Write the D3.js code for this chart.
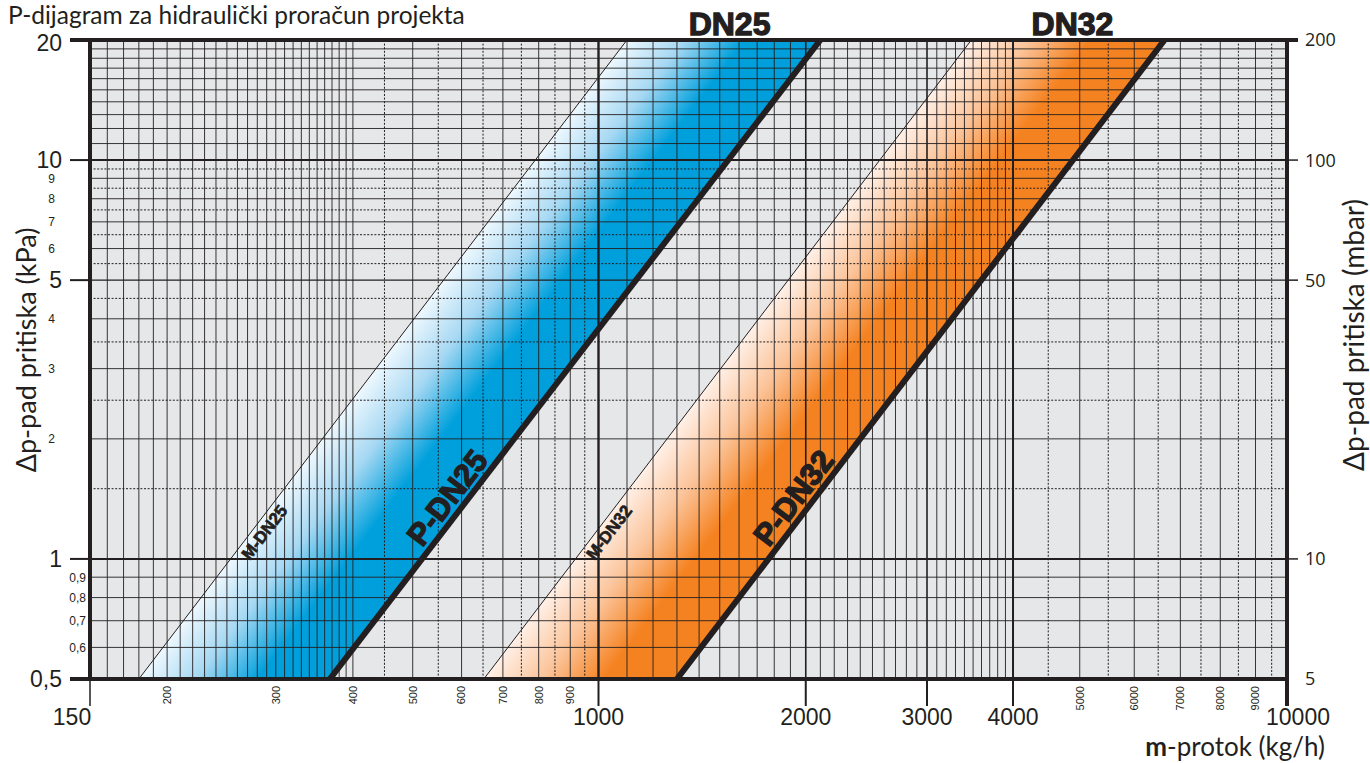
<!DOCTYPE html>
<html>
<head>
<meta charset="utf-8">
<script src="https://cdn.jsdelivr.net/npm/d3@7"></script>
<style>
  html, body { margin: 0; padding: 0; background: #fff; }
  svg { display: block; }
</style>
</head>
<body>
<div id="chart"></div>
<script>
// ---- data ----
const lineNames   = ["M-DN25", "P-DN25", "M-DN32", "P-DN32"];
const flowAtLow   = [180, 367, 652, 1300];    // kg/h at 0.5 kPa
const flowAtHigh  = [1100, 2100, 3480, 6640]; // kg/h at 20 kPa
const dpRange     = [0.5, 20];                // kPa
const bandNames   = ["DN25", "DN32"];
const bandLabelFlow = [1550, 4880];           // where the DN header sits

const xMajorTicks  = [150, 1000, 2000, 3000, 4000, 10000];
const xMinorLabels = [200, 300, 400, 500, 600, 700, 800, 900, 5000, 6000, 7000, 8000, 9000];
const yMajorTicks  = [20, 10, 5, 1, 0.5];
const yMajorText   = ["20", "10", "5", "1", "0,5"];
const yMinorTicks  = [9, 8, 7, 6, 4, 3, 2, 0.9, 0.8, 0.7, 0.6];
const yMinorText   = ["9", "8", "7", "6", "4", "3", "2", "0,9", "0,8", "0,7", "0,6"];
const mbarTicks    = [200, 100, 50, 10, 5];

const W = 1370, H = 763;
const ink = "#231f20";
const plotL = 90, plotR = 1287, plotT = 40, plotB = 679;

// the printed axis is not a clean log scale: the part below 1000 is squeezed
const x = d3.scaleLog().domain([150, 1000, 10000]).range([plotL, 598.5, plotR]);
const y = d3.scaleLog().domain([0.5, 20]).range([plotB, plotT]);
const yMbar = d3.scaleLog().domain([5, 200]).range([plotB, plotT]);

const svg = d3.select("#chart").append("svg")
  .attr("width", W).attr("height", H);

const defs = svg.append("defs");
defs.append("clipPath").attr("id", "plotclip")
  .append("rect").attr("x", plotL).attr("y", plotT)
  .attr("width", plotR - plotL).attr("height", plotB - plotT);

svg.append("rect")
  .attr("x", plotL).attr("y", plotT)
  .attr("width", plotR - plotL).attr("height", plotB - plotT)
  .attr("fill", "#e6e7e8");

// pixel end points of the four lines
const lines = lineNames.map((name, i) => ({
  name: name,
  p0: [x(flowAtLow[i]), y(dpRange[0])],
  p1: [x(flowAtHigh[i]), y(dpRange[1])]
}));

// ---- bands with a gradient across them ----
const bandColors = [
  ["#eef8fe", "#a6d8f3", "#00a0dc", "#009fdb"],
  ["#fff0e7", "#fbc49a", "#f58220", "#f58220"]
];
const bandStops = [0, 0.3, 0.62, 1];

const bandG = svg.append("g").attr("clip-path", "url(#plotclip)");
bandNames.forEach((b, bi) => {
  const m = lines[bi * 2], p = lines[bi * 2 + 1];
  const dx = m.p1[0] - m.p0[0], dy = m.p1[1] - m.p0[1];
  const len = Math.hypot(dx, dy);
  const n = [-dy / len, dx / len]; // points right-down
  const mid = [(m.p0[0] + m.p1[0]) / 2, (m.p0[1] + m.p1[1]) / 2];
  const d = (p.p0[0] - mid[0]) * n[0] + (p.p0[1] - mid[1]) * n[1];
  const grad = defs.append("linearGradient")
    .attr("id", "grad" + bi)
    .attr("gradientUnits", "userSpaceOnUse")
    .attr("x1", mid[0]).attr("y1", mid[1])
    .attr("x2", mid[0] + d * n[0]).attr("y2", mid[1] + d * n[1]);
  grad.selectAll("stop").data(bandStops).join("stop")
    .attr("offset", s => s)
    .attr("stop-color", (s, k) => bandColors[bi][k]);
  bandG.append("path")
    .attr("d", d3.line()([m.p0, m.p1, p.p1, p.p0]) + "Z")
    .attr("fill", "url(#grad" + bi + ")");
});

// ---- grid ----
const gridX = [].concat(
  d3.range(160, 400, 10),
  d3.range(400, 1000, 50),
  d3.range(1000, 4000, 100),
  d3.range(4000, 10000, 500)
).filter(v => v > 150);
const gridY = [].concat(
  [0.6, 0.7, 0.8, 0.9],
  d3.range(1, 10, 0.5),
  d3.range(10, 20, 1)
);
const dottedX = v => (v > 400 && v < 1000 && v % 100 === 50) || (v > 4000 && v % 1000 === 500);
const dottedY = v => v > 1 && v < 10 && Math.abs(v % 1 - 0.5) < 1e-6;
const heavyX = {1000: 2.4, 2000: 1.6, 3000: 1.6, 4000: 2};
const heavyY = {1: 2, 10: 2, 5: 1.4};

const grid = svg.append("g");
grid.selectAll("line.gx").data(gridX).join("line")
  .attr("class", "gx")
  .attr("x1", d => x(d)).attr("x2", d => x(d))
  .attr("y1", plotT).attr("y2", plotB)
  .attr("stroke", ink)
  .attr("stroke-width", d => heavyX[d] || (dottedX(d) ? 1 : 0.9))
  .attr("stroke-dasharray", d => dottedX(d) ? "2,1.6" : null);
grid.selectAll("line.gy").data(gridY).join("line")
  .attr("class", "gy")
  .attr("y1", d => y(d)).attr("y2", d => y(d))
  .attr("x1", plotL).attr("x2", plotR)
  .attr("stroke", ink)
  .attr("stroke-width", d => heavyY[d] || (dottedY(d) ? 1 : 0.9))
  .attr("stroke-dasharray", d => dottedY(d) ? "2,1.6" : null);

// ---- the characteristic lines ----
const lineG = svg.append("g").attr("clip-path", "url(#plotclip)");
lineG.selectAll("line").data(lines).join("line")
  .attr("x1", d => d.p0[0]).attr("y1", d => d.p0[1])
  .attr("x2", d => d.p1[0]).attr("y2", d => d.p1[1])
  .attr("stroke", ink)
  .attr("stroke-width", d => d.name[0] === "P" ? 6 : 1);

// labels that sit along the lines
function alongLine(l, dp) {
  const yy = y(dp);
  const t = (yy - l.p0[1]) / (l.p1[1] - l.p0[1]);
  const xx = l.p0[0] + t * (l.p1[0] - l.p0[0]);
  const ang = Math.atan2(l.p1[1] - l.p0[1], l.p1[0] - l.p0[0]) * 180 / Math.PI;
  return `translate(${xx},${yy}) rotate(${ang})`;
}
lines.forEach(l => {
  const isP = l.name[0] === "P";
  svg.append("text")
    .attr("transform", alongLine(l, isP ? 1.34 : 1.21))
    .attr("x", 0)
    .attr("y", isP ? -17 : 11)
    .attr("dominant-baseline", "central")
    .attr("text-anchor", "middle")
    .attr("font-family", "'Liberation Sans', Arial, sans-serif")
    .attr("font-weight", "bold")
    .attr("font-size", isP ? 31 : 17)
    .attr("fill", ink)
    .attr("stroke", ink)
    .attr("stroke-width", isP ? 1.4 : 0.6)
    .text(l.name);
});

// DN headers above the plot
svg.selectAll("text.dn").data(bandNames).join("text")
  .attr("class", "dn")
  .attr("x", (d, i) => x(bandLabelFlow[i]))
  .attr("y", 35)
  .attr("text-anchor", "middle")
  .attr("font-family", "'Liberation Sans', Arial, sans-serif")
  .attr("font-weight", "bold")
  .attr("font-size", 32)
  .attr("fill", ink)
  .attr("stroke", ink)
  .attr("stroke-width", 1.3)
  .text(d => d);

// ---- axes frame ----
const frame = svg.append("g").attr("stroke", ink).attr("fill", "none");
frame.append("line").attr("x1", 70).attr("x2", 1298).attr("y1", plotT).attr("y2", plotT).attr("stroke-width", 4);
frame.append("line").attr("x1", 70).attr("x2", plotR).attr("y1", plotB).attr("y2", plotB).attr("stroke-width", 4);
frame.append("line").attr("x1", plotL).attr("x2", plotL).attr("y1", plotT - 2).attr("y2", plotB).attr("stroke-width", 4);
frame.append("line").attr("x1", plotR).attr("x2", plotR).attr("y1", plotT - 2).attr("y2", 706).attr("stroke-width", 4);

// ticks below the x axis
frame.selectAll("line.xt").data(xMajorTicks.filter(v => v < 10000)).join("line")
  .attr("class", "xt")
  .attr("x1", d => x(d)).attr("x2", d => x(d))
  .attr("y1", plotB).attr("y2", 706)
  .attr("stroke-width", d => d === 150 ? 1.5 : 2);

// left major ticks
frame.selectAll("line.yt").data(yMajorTicks.filter(v => v !== 20 && v !== 0.5)).join("line")
  .attr("class", "yt")
  .attr("x1", 70).attr("x2", plotL)
  .attr("y1", d => y(d)).attr("y2", d => y(d))
  .attr("stroke-width", 2);

// right mbar ticks
frame.selectAll("line.rt").data(mbarTicks.filter(v => v !== 200 && v !== 5)).join("line")
  .attr("class", "rt")
  .attr("x1", plotR).attr("x2", 1298)
  .attr("y1", d => yMbar(d)).attr("y2", d => yMbar(d))
  .attr("stroke-width", 1.5);

// ---- tick labels ----
const numFont = "'Liberation Sans', Arial, sans-serif";
svg.selectAll("text.xl").data(xMajorTicks).join("text")
  .attr("class", "xl")
  .attr("x", d => d === 150 ? x(d) - 18 : (d === 10000 ? x(d) + 11 : x(d)))
  .attr("y", 725)
  .attr("text-anchor", "middle")
  .attr("font-family", numFont)
  .attr("font-size", 23)
  .attr("fill", ink)
  .text(d => d);

svg.selectAll("text.xm").data(xMinorLabels).join("text")
  .attr("class", "xm")
  .attr("transform", d => `translate(${x(d)},686) rotate(-90)`)
  .attr("dy", "0.35em")
  .attr("text-anchor", "end")
  .attr("font-family", numFont)
  .attr("font-size", 11)
  .attr("fill", ink)
  .text(d => d);

svg.selectAll("text.yl").data(yMajorTicks).join("text")
  .attr("class", "yl")
  .attr("x", 62)
  .attr("y", d => d === 20 ? y(d) + 3 : y(d))
  .attr("dy", "0.36em")
  .attr("text-anchor", "end")
  .attr("font-family", numFont)
  .attr("font-size", 23)
  .attr("fill", ink)
  .text((d, i) => yMajorText[i]);

svg.selectAll("text.ym").data(yMinorTicks).join("text")
  .attr("class", "ym")
  .attr("x", d => d < 1 ? 86 : 55)
  .attr("y", d => y(d))
  .attr("dy", "0.36em")
  .attr("text-anchor", "end")
  .attr("font-family", numFont)
  .attr("font-size", 12)
  .attr("fill", ink)
  .text((d, i) => yMinorText[i]);

svg.selectAll("text.rl").data(mbarTicks).join("text")
  .attr("class", "rl")
  .attr("x", 1305)
  .attr("y", d => yMbar(d))
  .attr("dy", "0.36em")
  .attr("font-family", "'Open Sans', sans-serif")
  .attr("font-size", 18)
  .attr("fill", ink)
  .text(d => d);

// ---- titles ----
const titleFont = "Lato, 'Open Sans', sans-serif";
svg.append("text")
  .attr("x", 8).attr("y", 24)
  .attr("font-family", titleFont)
  .attr("font-size", 24.5)
  .attr("fill", ink)
  .text("P-dijagram za hidraulički proračun projekta");

svg.append("text")
  .attr("transform", "translate(36,350) rotate(-90)")
  .attr("text-anchor", "middle")
  .attr("font-family", titleFont)
  .attr("font-size", 27)
  .attr("fill", ink)
  .text("Δp-pad pritiska (kPa)");

svg.append("text")
  .attr("transform", "translate(1364,335) rotate(-90)")
  .attr("text-anchor", "middle")
  .attr("font-family", titleFont)
  .attr("font-size", 28)
  .attr("fill", ink)
  .text("Δp-pad pritiska (mbar)");

const xt = svg.append("text")
  .attr("x", 1325).attr("y", 756)
  .attr("text-anchor", "end")
  .attr("font-family", titleFont)
  .attr("font-size", 26)
  .attr("fill", ink);
xt.append("tspan").attr("font-weight", "bold").text("m");
xt.append("tspan").text("-protok (kg/h)");
</script>
</body>
</html>
